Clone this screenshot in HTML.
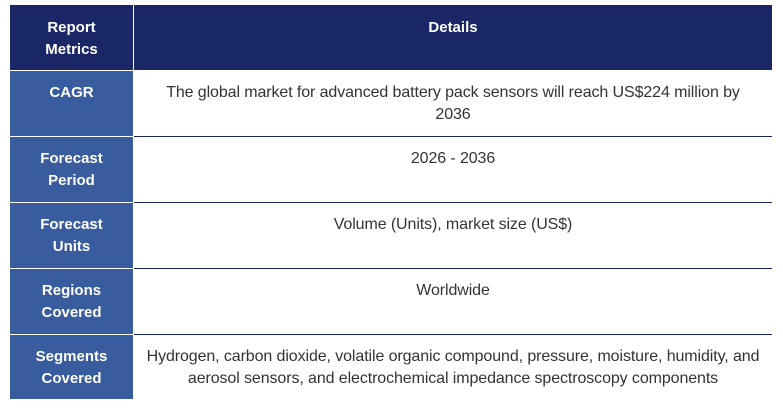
<!DOCTYPE html>
<html><head><style>
body{margin:0;width:783px;height:409px;background:#fff;font-family:"Liberation Sans",Arial,sans-serif;position:relative;overflow:hidden}
.c{position:absolute;box-sizing:border-box;text-align:center;line-height:22px;padding-top:11px}
.h{background:#1a2766;color:#fff;font-weight:bold;font-size:15px}
.l{background:#385c9e;color:#fff;font-weight:bold;left:10px;width:123px;font-size:15px}
.r{left:134px;width:638px;color:#333;border-bottom:1px solid #1a2766;font-size:16px;letter-spacing:-0.1px}
</style></head><body>
<div class="c h" style="left:10px;top:5px;width:123px;height:65px;padding-top:12px">Report<br>Metrics</div>
<div class="c h" style="left:134px;top:5px;width:638px;height:65px;padding-top:12px">Details</div>

<div class="c l" style="top:71px;height:65px">CAGR</div>
<div class="c r" style="top:71px;height:66px">The global market for advanced battery pack sensors will reach US$224 million by<br>2036</div>

<div class="c l" style="top:137px;height:65px">Forecast<br>Period</div>
<div class="c r" style="top:137px;height:66px">2026 - 2036</div>

<div class="c l" style="top:203px;height:65px">Forecast<br>Units</div>
<div class="c r" style="top:203px;height:66px">Volume (Units), market size (US$)</div>

<div class="c l" style="top:269px;height:65px">Regions<br>Covered</div>
<div class="c r" style="top:269px;height:66px">Worldwide</div>

<div class="c l" style="top:335px;height:64px">Segments<br>Covered</div>
<div class="c r" style="top:335px;height:64px;border-bottom:none">Hydrogen, carbon dioxide, volatile organic compound, pressure, moisture, humidity, and<br>aerosol sensors, and electrochemical impedance spectroscopy components</div>
</body></html>
